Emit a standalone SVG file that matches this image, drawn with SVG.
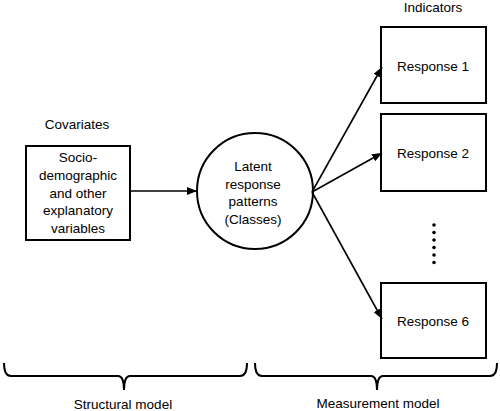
<svg xmlns="http://www.w3.org/2000/svg" width="500" height="411" viewBox="0 0 500 411">
<defs>
<marker id="arr" viewBox="0 0 10 8" refX="10" refY="4" markerWidth="10" markerHeight="8" markerUnits="userSpaceOnUse" orient="auto">
<path d="M0,0 L10,4 L0,8 Z" fill="#000"/>
</marker>
<style>
.box{fill:#fff;stroke:#000;stroke-width:2}
.t{font-family:"Liberation Sans",Arial,sans-serif;font-size:13.5px;fill:#000;text-anchor:middle}
.c{stroke:#000;stroke-width:1.6;fill:none}
.br{stroke:#000;stroke-width:2;fill:none}
</style>
</defs>
<rect width="500" height="411" fill="#fff"/>
<text class="t" x="77" y="129">Covariates</text>
<text class="t" x="433" y="12">Indicators</text>
<g id="covariates">
<rect class="box" x="26" y="146" width="104" height="94"/>
<text class="t" x="78" y="162">Socio-</text>
<text class="t" x="78" y="180">demographic</text>
<text class="t" x="78" y="197.5">and other</text>
<text class="t" x="78" y="215">explanatory</text>
<text class="t" x="78" y="233">variables</text>
</g>
<g id="latent">
<circle class="box" cx="255" cy="191" r="58"/>
<text class="t" x="253" y="171">Latent</text>
<text class="t" x="253" y="188.5">response</text>
<text class="t" x="253" y="206">patterns</text>
<text class="t" x="253" y="224">(Classes)</text>
</g>
<g id="response1">
<rect class="box" x="381" y="27" width="105" height="76"/>
<text class="t" x="433" y="71">Response 1</text>
</g>
<g id="response2">
<rect class="box" x="381" y="114" width="105" height="77"/>
<text class="t" x="433" y="158">Response 2</text>
</g>
<g id="response6">
<rect class="box" x="381" y="283" width="105" height="75"/>
<text class="t" x="433" y="326">Response 6</text>
</g>
<g id="dots" fill="#000">
<circle cx="434" cy="225" r="1.8"/>
<circle cx="434" cy="232.5" r="1.8"/>
<circle cx="434" cy="240" r="1.8"/>
<circle cx="434" cy="247.5" r="1.8"/>
<circle cx="434" cy="255" r="1.8"/>
<circle cx="434" cy="262.5" r="1.8"/>
</g>
<g id="connectors">
<line class="c" x1="131" y1="191" x2="197" y2="191" marker-end="url(#arr)"/>
<line class="c" x1="312" y1="192" x2="382" y2="67" marker-end="url(#arr)"/>
<line class="c" x1="312" y1="192" x2="382" y2="153" marker-end="url(#arr)"/>
<line class="c" x1="312" y1="192" x2="382" y2="319" marker-end="url(#arr)"/>
</g>
<g id="braces">
<path class="br" d="M4,363 Q4,376 11,376 L118,376 Q124,376 124,390 Q124,376 130,376 L240,376 Q247,376 247,363"/>
<path class="br" d="M255,363 Q255,376 262,376 L371,376 Q377,376 377,390 Q377,376 383,376 L490,376 Q497,376 497,363"/>
</g>
<text class="t" x="123" y="409">Structural model</text>
<text class="t" x="378" y="408">Measurement model</text>
</svg>
